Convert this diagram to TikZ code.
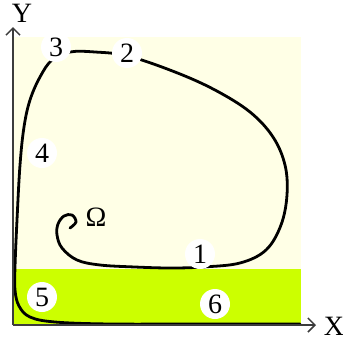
\documentclass[tikz,border=0pt]{standalone}
\usepackage{fontspec}
\setmainfont{Liberation Serif}
\usetikzlibrary{arrows.meta}
\definecolor{bgyellow}{RGB}{255,255,230}
\definecolor{limegreen}{RGB}{204,255,0}
\definecolor{axisgray}{RGB}{60,60,60}
\tikzset{
  num/.style={circle,fill=white,inner sep=0pt,minimum size=30pt,font=\fontsize{28}{30}\selectfont},
  lbl/.style={inner sep=0pt,font=\fontsize{28}{30}\selectfont},
  axis/.style={draw=axisgray,line width=1.5pt,-{Straight Barb[length=7pt,width=14pt,line width=1.5pt]}},
  traj/.style={draw=black,line width=2.8pt,line cap=round,line join=round}
}
\begin{document}
\begin{tikzpicture}[x=1pt,y=-1pt]
\useasboundingbox (0,0) rectangle (343,343);
\fill[bgyellow] (13,37) rectangle (301,269);
\fill[limegreen] (13,269) rectangle (301,325);
\coordinate (O) at (13,325);
\coordinate (Ytip) at (13,27);
\coordinate (Xtip) at (316,325);
\draw[traj] plot[smooth,tension=0.6] coordinates {
 (70,228) (76,222) (72,215) (64,216) (58,224) (57,235) (62,248) (77,260) (100,265) (135,267) (170,268) (203,267) (240,263) (266,250) (281,225) (287,195) (285,165) (273,137) (250,112) (215,90) (175,72) (128,56) (95,52) (70,52) (52,60) (40,77) (30,100) (24,127) (20,165) (17,220) (15,267) (15,290) (19,306) (30,317) (55,322) (110,324) (200,324) (300,324)};
\draw[axis] (O) -- (Ytip);
\draw[axis] (O) -- (Xtip);
\node[lbl] (ylab) at (22,13) {Y};
\node[lbl] (xlab) at (334,326) {X};
\node[lbl] (omega) at (96,217) {Ω};
\node[num] (n1) at (200,254) {1};
\node[num] (n2) at (127,53) {2};
\node[num] (n3) at (56,47) {3};
\node[num] (n4) at (42,153) {4};
\node[num] (n5) at (42,297) {5};
\node[num] (n6) at (215,304) {6};
\end{tikzpicture}
\end{document}
